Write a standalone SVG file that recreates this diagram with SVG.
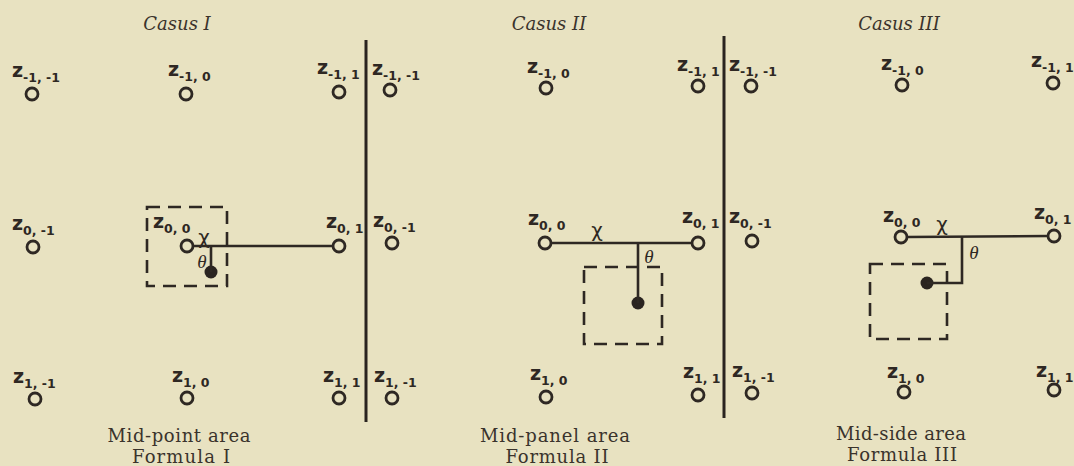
<svg xmlns="http://www.w3.org/2000/svg" width="1074" height="466" viewBox="0 0 1074 466">
<defs>
<style>
.bg{fill:#e8e2c1}
.title{font-family:"DejaVu Serif","Liberation Serif",serif;font-style:italic;font-size:18px;fill:#3a332c}
.cap{font-family:"DejaVu Serif","Liberation Serif",serif;font-size:18px;fill:#3a332c}
.z{font-family:"DejaVu Sans","Liberation Sans",sans-serif;font-weight:bold;font-size:19px;fill:#2e2823}
.sub{font-size:12.5px}
.pt{fill:none;stroke:#2e2823;stroke-width:2.8}
.dot{fill:#2a2420}
.ln{fill:none;stroke:#2e2823;stroke-width:2.6}
.div{fill:none;stroke:#2a2420;stroke-width:3}
.dash{fill:none;stroke:#2e2823;stroke-width:2.6;stroke-dasharray:13 8}
.gr{font-family:"DejaVu Sans",sans-serif;font-size:20px;fill:#2e2823}
.th{font-family:"Liberation Serif",serif;font-style:italic;font-size:19px;fill:#2e2823}
</style>
</defs>
<rect class="bg" x="0" y="0" width="1074" height="466"/>

<g id="titles">
<text class="title" x="177" y="30" text-anchor="middle">Casus I</text>
<text class="title" x="549" y="30" text-anchor="middle">Casus II</text>
<text class="title" x="899" y="30" text-anchor="middle">Casus III</text>
</g>

<g id="captions">
<text class="cap" x="179" y="442" text-anchor="middle" textLength="143">Mid-point area</text>
<text class="cap" x="181" y="463" text-anchor="middle" textLength="98">Formula I</text>
<text class="cap" x="555" y="442" text-anchor="middle" textLength="150">Mid-panel area</text>
<text class="cap" x="557" y="463" text-anchor="middle" textLength="103">Formula II</text>
<text class="cap" x="901" y="440" text-anchor="middle" textLength="130">Mid-side area</text>
<text class="cap" x="902" y="461" text-anchor="middle" textLength="110">Formula III</text>
</g>

<g id="dividers">
<line class="div" x1="366" y1="40" x2="366" y2="422"/>
<line class="div" x1="724" y1="36" x2="724" y2="418"/>
</g>

<!-- Casus I nodes -->
<g id="c1-zm1m1"><text class="z" x="12" y="77">z<tspan class="sub" dy="5">-1, -1</tspan></text><circle class="pt" cx="32" cy="94" r="6"/></g>
<g id="c1-zm10"><text class="z" x="168" y="76">z<tspan class="sub" dy="5">-1, 0</tspan></text><circle class="pt" cx="186" cy="94" r="6"/></g>
<g id="c1-zm11"><text class="z" x="317" y="74">z<tspan class="sub" dy="5">-1, 1</tspan></text><circle class="pt" cx="339" cy="92" r="6"/></g>
<g id="c1-z0m1"><text class="z" x="12" y="230">z<tspan class="sub" dy="5">0, -1</tspan></text><circle class="pt" cx="33" cy="247" r="6"/></g>
<g id="c1-z00"><text class="z" x="153" y="228">z<tspan class="sub" dy="5">0, 0</tspan></text><circle class="pt" cx="187" cy="246" r="6"/></g>
<g id="c1-z01"><text class="z" x="326" y="228">z<tspan class="sub" dy="5">0, 1</tspan></text><circle class="pt" cx="339" cy="246" r="6"/></g>
<g id="c1-z1m1"><text class="z" x="13" y="383">z<tspan class="sub" dy="5">1, -1</tspan></text><circle class="pt" cx="35" cy="399" r="6"/></g>
<g id="c1-z10"><text class="z" x="172" y="382">z<tspan class="sub" dy="5">1, 0</tspan></text><circle class="pt" cx="187" cy="398" r="6"/></g>
<g id="c1-z11"><text class="z" x="323" y="382">z<tspan class="sub" dy="5">1, 1</tspan></text><circle class="pt" cx="339" cy="398" r="6"/></g>
<g id="c1-area"><rect class="dash" x="147" y="207" width="80" height="79"/><circle class="dot" cx="211" cy="272" r="6.5"/></g>

<!-- Casus II nodes -->
<g id="c2-zm1m1"><text class="z" x="372" y="75">z<tspan class="sub" dy="5">-1, -1</tspan></text><circle class="pt" cx="390" cy="90" r="6"/></g>
<g id="c2-zm10"><text class="z" x="527" y="73">z<tspan class="sub" dy="5">-1, 0</tspan></text><circle class="pt" cx="546" cy="88" r="6"/></g>
<g id="c2-zm11"><text class="z" x="677" y="71">z<tspan class="sub" dy="5">-1, 1</tspan></text><circle class="pt" cx="698" cy="86" r="6"/></g>
<g id="c2-z0m1"><text class="z" x="373" y="227">z<tspan class="sub" dy="5">0, -1</tspan></text><circle class="pt" cx="392" cy="243" r="6"/></g>
<g id="c2-z00"><text class="z" x="528" y="225">z<tspan class="sub" dy="5">0, 0</tspan></text><circle class="pt" cx="545" cy="243" r="6"/></g>
<g id="c2-z01"><text class="z" x="682" y="223">z<tspan class="sub" dy="5">0, 1</tspan></text><circle class="pt" cx="698" cy="243" r="6"/></g>
<g id="c2-z1m1"><text class="z" x="374" y="382">z<tspan class="sub" dy="5">1, -1</tspan></text><circle class="pt" cx="392" cy="398" r="6"/></g>
<g id="c2-z10"><text class="z" x="530" y="380">z<tspan class="sub" dy="5">1, 0</tspan></text><circle class="pt" cx="546" cy="397" r="6"/></g>
<g id="c2-z11"><text class="z" x="683" y="378">z<tspan class="sub" dy="5">1, 1</tspan></text><circle class="pt" cx="698" cy="395" r="6"/></g>
<g id="c2-area"><rect class="dash" x="584" y="267" width="78" height="77"/><circle class="dot" cx="638" cy="303" r="6.5"/></g>

<!-- Casus III nodes -->
<g id="c3-zm1m1"><text class="z" x="729" y="71">z<tspan class="sub" dy="5">-1, -1</tspan></text><circle class="pt" cx="751" cy="86" r="6"/></g>
<g id="c3-zm10"><text class="z" x="881" y="70">z<tspan class="sub" dy="5">-1, 0</tspan></text><circle class="pt" cx="902" cy="85" r="6"/></g>
<g id="c3-zm11"><text class="z" x="1031" y="67">z<tspan class="sub" dy="5">-1, 1</tspan></text><circle class="pt" cx="1053" cy="83" r="6"/></g>
<g id="c3-z0m1"><text class="z" x="729" y="223">z<tspan class="sub" dy="5">0, -1</tspan></text><circle class="pt" cx="752" cy="241" r="6"/></g>
<g id="c3-z00"><text class="z" x="883" y="222">z<tspan class="sub" dy="5">0, 0</tspan></text><circle class="pt" cx="901" cy="237" r="6"/></g>
<g id="c3-z01"><text class="z" x="1034" y="219">z<tspan class="sub" dy="5">0, 1</tspan></text><circle class="pt" cx="1054" cy="236" r="6"/></g>
<g id="c3-z1m1"><text class="z" x="732" y="377">z<tspan class="sub" dy="5">1, -1</tspan></text><circle class="pt" cx="752" cy="393" r="6"/></g>
<g id="c3-z10"><text class="z" x="887" y="378">z<tspan class="sub" dy="5">1, 0</tspan></text><circle class="pt" cx="904" cy="392" r="6"/></g>
<g id="c3-z11"><text class="z" x="1036" y="377">z<tspan class="sub" dy="5">1, 1</tspan></text><circle class="pt" cx="1054" cy="390" r="6"/></g>
<g id="c3-area"><rect class="dash" x="870" y="264" width="77" height="75"/><circle class="dot" cx="927" cy="283" r="6.5"/></g>

<g id="connectors">
<line class="ln" x1="193" y1="246" x2="333" y2="246"/>
<line class="ln" x1="211" y1="246" x2="211" y2="272"/>
<line class="ln" x1="551" y1="243" x2="692" y2="243"/>
<line class="ln" x1="638" y1="243" x2="638" y2="303"/>
<line class="ln" x1="907" y1="237" x2="1048" y2="236"/>
<polyline class="ln" points="962,236.6 962,283 927,283"/>
</g>

<g id="labels">
<text class="gr" x="204" y="244" text-anchor="middle">χ</text>
<text class="th" x="202" y="268" text-anchor="middle">θ</text>
<text class="gr" x="597" y="237" text-anchor="middle">χ</text>
<text class="th" x="649" y="263" text-anchor="middle">θ</text>
<text class="gr" x="942" y="231" text-anchor="middle">χ</text>
<text class="th" x="974" y="259" text-anchor="middle">θ</text>
</g>
</svg>
